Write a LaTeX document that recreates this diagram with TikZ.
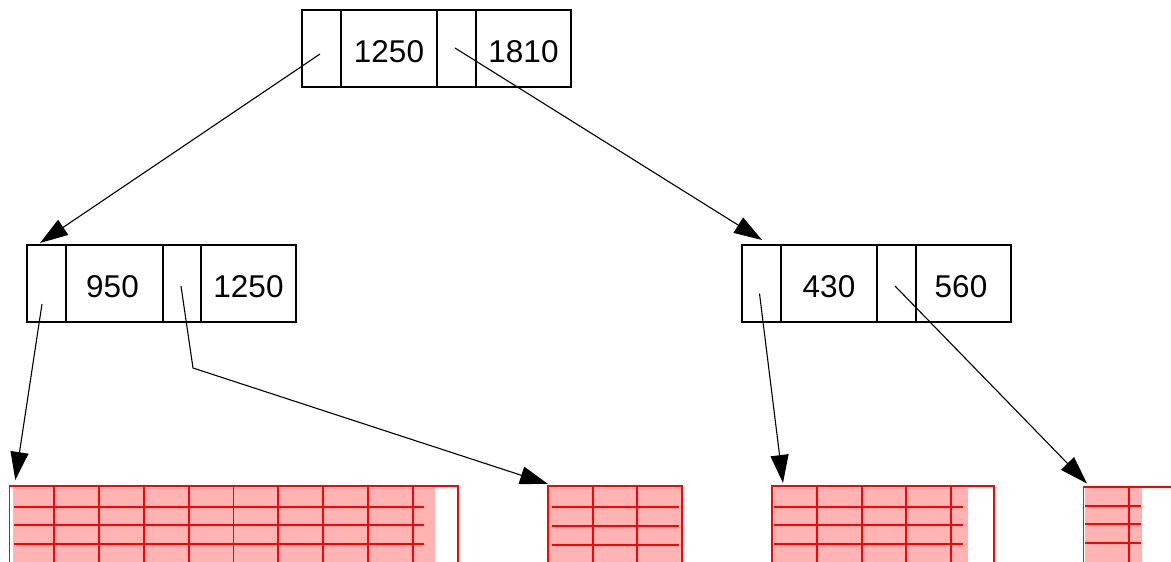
\documentclass[tikz,border=0pt]{standalone}
\usepackage{fontspec}
\setmainfont{Liberation Sans}
\usetikzlibrary{arrows.meta}
\definecolor{pinkfill}{RGB}{255,179,179}
\tikzset{
  cell/.style={draw=black, line width=1.2pt, rectangle, inner sep=0pt, minimum height=77pt, font=\fontsize{31.5}{36}\selectfont},
  ptr/.style={cell, minimum width=39pt},
  key/.style={cell, minimum width=96pt},
  arr/.style={draw=black, line width=1.1pt, -{Triangle[length=28pt,width=18pt]}},
  redline/.style={draw=red, line width=1.9pt},
  tbl/.style={fill=pinkfill, draw=none}
}
\begin{document}
\begin{tikzpicture}[x=1pt,y=-1pt]
\useasboundingbox (0,0) rectangle (1171,562);
% top node
\node[ptr] (t0) at (321.5,48.5) {};
\node[key] (t1) at (389,48.5) {};
\node[ptr] (t2) at (456.5,48.5) {};
\node[cell, minimum width=95pt] (t3) at (523.5,48.5) {};
\node[anchor=base, font=\fontsize{31.5}{36}\selectfont] (t1l) at (389,62) {1250};
\node[anchor=base, font=\fontsize{31.5}{36}\selectfont] (t3l) at (523.5,62) {1810};
% left node
\node[ptr] (l0) at (46.5,283.5) {};
\node[cell, minimum width=97pt] (l1) at (114.5,283.5) {};
\node[cell, minimum width=38pt] (l2) at (182,283.5) {};
\node[cell, minimum width=95pt] (l3) at (248.5,283.5) {};
\node[anchor=base, font=\fontsize{31.5}{36}\selectfont] (l1l) at (112.5,297) {950};
\node[anchor=base, font=\fontsize{31.5}{36}\selectfont] (l3l) at (248.5,297) {1250};
% right node
\node[ptr] (r0) at (761.5,283.5) {};
\node[key] (r1) at (829,283.5) {};
\node[ptr] (r2) at (896.5,283.5) {};
\node[cell, minimum width=95pt] (r3) at (963.5,283.5) {};
\node[anchor=base, font=\fontsize{31.5}{36}\selectfont] (r1l) at (829,297) {430};
\node[anchor=base, font=\fontsize{31.5}{36}\selectfont] (r3l) at (961,297) {560};
% connector ends
\coordinate (t0p) at (320,54);
\coordinate (t2p) at (455,48);
\coordinate (l0p) at (42,304);
\coordinate (l2p) at (181,286);
\coordinate (l2b) at (193,368);
\coordinate (r0p) at (759.5,293.5);
\coordinate (r2p) at (895,286);
\coordinate (lt) at (40,243);
\coordinate (rt) at (762,240);
\coordinate (b1) at (15.3,480);
\coordinate (b2) at (548,484);
\coordinate (b3) at (783,483);
\coordinate (b4) at (1087,483.5);
% bottom tables
\begin{scope}
\clip (0,0) rectangle (1171,562);
% block 1
\fill[tbl] (13,487.5) rectangle (435,570);
\draw[redline] (9.5,575) -- (9.5,486) -- (457.8,486) -- (457.8,575);
\foreach \x in {54.3,99.1,143.9,188.7,233.5,278.3,323.1,367.9,412.7}
  \draw[redline] (\x,486) -- (\x,575);
\foreach \y in {506.7,525.3,544}
  \draw[redline] (14.3,\y) -- (424,\y);
% block 2
\fill[tbl] (549,487.5) rectangle (681,570);
\draw[redline] (548,575) -- (548,486) -- (682,486) -- (682,575);
\foreach \x in {593.3,637.3}
  \draw[redline] (\x,486) -- (\x,575);
\foreach \y in {506.7,526,545}
  \draw[redline] (552,\y) -- (679,\y);
% block 3
\fill[tbl] (773.5,487.5) rectangle (968.3,570);
\draw[redline] (772,575) -- (772,486) -- (994,486) -- (994,575);
\foreach \x in {817.3,861.7,906,951}
  \draw[redline] (\x,486) -- (\x,575);
\foreach \y in {506.7,525.3,544}
  \draw[redline] (774,\y) -- (963.3,\y);
% block 4
\fill[tbl] (1085,488) rectangle (1141.7,570);
\draw[redline] (1083.5,575) -- (1083.5,487) -- (1180,487);
\draw[redline] (1129.3,487) -- (1129.3,575);
\foreach \y in {506,524.3,543.3}
  \draw[redline] (1085,\y) -- (1140.7,\y);
\end{scope}
% connectors
\draw[arr] (t0p) -- (lt);
\draw[arr] (t2p) -- (rt);
\draw[arr] (l0p) -- (b1);
\draw[arr] (l2p) -- (l2b) -- (b2);
\draw[arr] (r0p) -- (b3);
\draw[arr] (r2p) -- (b4);
\end{tikzpicture}
\end{document}
